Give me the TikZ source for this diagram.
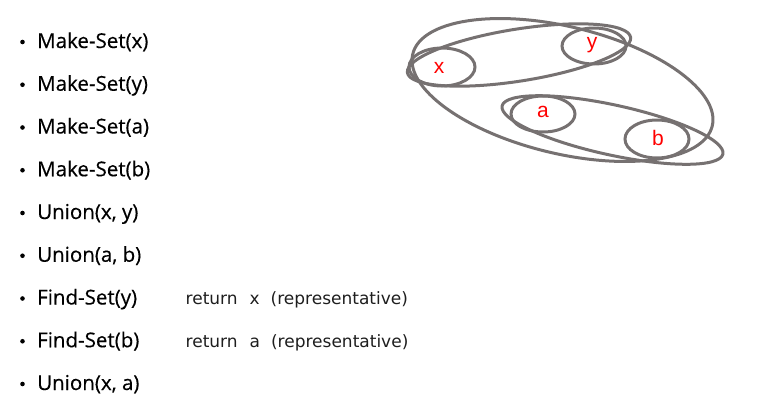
\documentclass[tikz,border=0pt]{standalone}
\usepackage{fontspec}
\setmainfont{Open Sans}
\newfontfamily\itemfont{Open Sans}[FakeBold=0.4]
\newfontfamily\rightfont{DejaVu Sans}
\newfontfamily\labfont{Liberation Sans}
\definecolor{ringgray}{RGB}{118,113,113}
\definecolor{txtgray}{RGB}{30,30,30}
\tikzset{
  ring/.style={draw=ringgray, line width=3pt},
  item/.style={anchor=base west, inner sep=0pt, font=\itemfont\fontsize{20.5}{20.5}\selectfont, text=black},
  note/.style={anchor=base west, inner sep=0pt, font=\rightfont\fontsize{17}{17}\selectfont, text=txtgray},
  dotb/.style={circle, fill=black, inner sep=0pt, minimum size=4.6pt},
  lab/.style={inner sep=0pt, font=\labfont\fontsize{21}{21}\selectfont, text=red}
}
\begin{document}
\begin{tikzpicture}[x=1pt,y=-1pt]
\useasboundingbox (0,0) rectangle (778,418);
% list
\foreach \t [count=\i] in {Make-Set(x),Make-Set(y),Make-Set(a),Make-Set(b),{Union(x, y)},{Union(a, b)},Find-Set(y),Find-Set(b),{Union(x, a)}}{
  \node[dotb] (d\i) at (22.5,{48+(\i-1)*42.75-6}) {};
  \node[item] (t\i) at (37,{48+(\i-1)*42.75}) {\t};
}
\node[note] (n7) at (185.5,{48+6*42.75}) {return\hspace{12pt}x\hspace{11pt}(representative)};
\node[note] (n8) at (185.5,{48+7*42.75}) {return\hspace{12pt}a\hspace{11pt}(representative)};
% ellipses
\draw[ring] (562.5,90) ellipse[x radius=154, y radius=63.5, rotate=-13.5];
\draw[ring] (519,55) ellipse[x radius=113, y radius=26, rotate=9];
\draw[ring] (612.5,130) ellipse[x radius=113, y radius=25, rotate=-12.3];
\draw[ring] (442,67) ellipse[x radius=33, y radius=19];
\draw[ring] (594,46) ellipse[x radius=32, y radius=18];
\draw[ring] (543,114) ellipse[x radius=32, y radius=18];
\draw[ring] (657,139) ellipse[x radius=32, y radius=19];
\node[lab] (lx) at (439,68) {x};
\node[lab] (ly) at (592,45) {y};
\node[lab] (la) at (543,112) {a};
\node[lab] (lb) at (658,138) {b};
\end{tikzpicture}
\end{document}
